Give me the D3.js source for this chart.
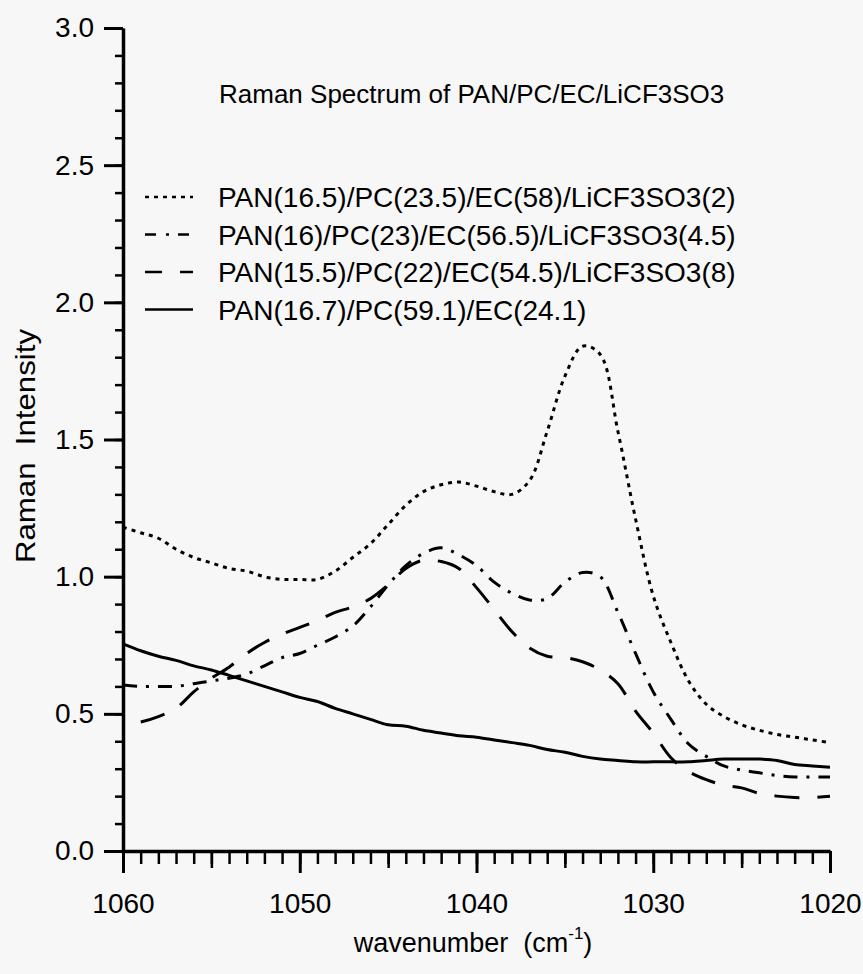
<!DOCTYPE html>
<html>
<head>
<meta charset="utf-8">
<script src="https://cdn.jsdelivr.net/npm/d3@7"></script>
<style>
  body { margin: 0; background: #f7f7f7; }
  svg { display: block; font-family: 'Liberation Sans', Arial, Helvetica, sans-serif; }
</style>
</head>
<body>
<div id="chart"></div>
<script>
// values, one per wavenumber
const wavenumbers = [1060, 1059, 1058, 1057, 1056, 1055, 1054, 1053, 1052, 1051,
  1050, 1049, 1048, 1047, 1046, 1045, 1044, 1043, 1042, 1041,
  1040, 1039, 1038, 1037, 1036, 1035, 1034, 1033, 1032, 1031,
  1030, 1029, 1028, 1027, 1026, 1025, 1024, 1023, 1022, 1021, 1020];

const salt2 = [1.18, 1.16, 1.14, 1.10, 1.07, 1.05, 1.03, 1.02, 1.00, 0.99,
  0.99, 0.99, 1.02, 1.07, 1.12, 1.19, 1.26, 1.31, 1.335, 1.345,
  1.33, 1.31, 1.30, 1.35, 1.53, 1.73, 1.84, 1.81, 1.53, 1.21,
  0.93, 0.76, 0.62, 0.535, 0.49, 0.46, 0.44, 0.425, 0.415, 0.405, 0.395];

const salt45 = [0.605, 0.60, 0.60, 0.60, 0.61, 0.62, 0.63, 0.645, 0.675, 0.705,
  0.72, 0.75, 0.78, 0.82, 0.89, 0.97, 1.04, 1.085, 1.105, 1.08,
  1.04, 0.98, 0.94, 0.915, 0.92, 0.98, 1.015, 1.00, 0.87, 0.72,
  0.58, 0.48, 0.39, 0.345, 0.31, 0.295, 0.285, 0.275, 0.27, 0.27, 0.27];

const salt8 = [0.46, 0.47, 0.49, 0.52, 0.58, 0.63, 0.67, 0.72, 0.76, 0.79,
  0.815, 0.84, 0.87, 0.89, 0.92, 0.97, 1.03, 1.06, 1.055, 1.03,
  0.96, 0.88, 0.80, 0.74, 0.71, 0.705, 0.69, 0.66, 0.61, 0.51,
  0.43, 0.34, 0.29, 0.26, 0.24, 0.23, 0.21, 0.20, 0.195, 0.195, 0.20];

const noSalt = [0.755, 0.73, 0.71, 0.695, 0.675, 0.66, 0.64, 0.62, 0.60, 0.58,
  0.56, 0.545, 0.52, 0.50, 0.48, 0.46, 0.455, 0.44, 0.43, 0.42,
  0.415, 0.405, 0.395, 0.385, 0.37, 0.36, 0.345, 0.335, 0.33, 0.325,
  0.325, 0.325, 0.325, 0.33, 0.335, 0.335, 0.335, 0.33, 0.315, 0.31, 0.305];

const seriesLabels = [
  'PAN(16.5)/PC(23.5)/EC(58)/LiCF3SO3(2)',
  'PAN(16)/PC(23)/EC(56.5)/LiCF3SO3(4.5)',
  'PAN(15.5)/PC(22)/EC(54.5)/LiCF3SO3(8)',
  'PAN(16.7)/PC(59.1)/EC(24.1)',
];

const yMajorTicks = [0, 0.5, 1.0, 1.5, 2.0, 2.5, 3.0];
const xMajorTicks = [1060, 1050, 1040, 1030, 1020];
const xMidTicks = [1055, 1045, 1035, 1025];

const titleText = 'Raman Spectrum of PAN/PC/EC/LiCF3SO3';

const width = 863;
const height = 974;

const x = d3.scaleLinear().domain([1060, 1020]).range([123, 830]);
const y = d3.scaleLinear().domain([0, 3]).range([851, 28]);

const svg = d3.select('#chart')
  .append('svg')
  .attr('width', width)
  .attr('height', height);

svg.append('rect')
  .attr('width', width)
  .attr('height', height)
  .attr('fill', '#f7f7f7');

// minor ticks first so the major ones sit on top
const yMinor = d3.range(0, 3.001, 0.1);
const xMinor = d3.range(1020, 1060.5, 1);

svg.append('g')
  .attr('transform', `translate(${x(1060)},0)`)
  .call(d3.axisLeft(y).tickValues(yMinor).tickSize(8).tickSizeOuter(0).tickFormat(''))
  .call(g => g.selectAll('.tick line').attr('stroke-width', 2.5));

svg.append('g')
  .attr('transform', `translate(0,${y(0)})`)
  .call(d3.axisBottom(x).tickValues(xMinor).tickSize(13).tickSizeOuter(0).tickFormat(''))
  .call(g => g.selectAll('.tick line').attr('stroke-width', 2.5));

svg.append('g')
  .attr('transform', `translate(0,${y(0)})`)
  .call(d3.axisBottom(x).tickValues(xMidTicks).tickSize(17).tickSizeOuter(0).tickFormat(''))
  .call(g => g.selectAll('.tick line').attr('stroke-width', 2.5));

const yAxis = svg.append('g')
  .attr('transform', `translate(${x(1060)},0)`)
  .call(d3.axisLeft(y).tickValues(yMajorTicks).tickSize(19).tickPadding(10)
    .tickSizeOuter(0).tickFormat(d3.format('.1f')));

const xAxis = svg.append('g')
  .attr('transform', `translate(0,${y(0)})`)
  .call(d3.axisBottom(x).tickValues(xMajorTicks).tickSize(22).tickPadding(20)
    .tickSizeOuter(0).tickFormat(d3.format('d')));

[yAxis, xAxis].forEach(g => {
  g.select('.domain').attr('stroke-width', 3.5);
  g.selectAll('.tick line').attr('stroke-width', 3);
  g.selectAll('.tick text')
    .attr('font-size', 28)
    .attr('fill', '#000')
    .style('font-family', "'Liberation Sans', Arial, sans-serif");
});
svg.selectAll('.domain').attr('stroke', '#000');

// curves
const series = [
  { values: salt2, dash: '4,5', offset: 0 },
  { values: salt45, dash: '14,9,3,9', offset: 0 },
  { values: salt8, dash: '25,18', offset: 25 },
  { values: noSalt, dash: null, offset: 0 },
];

const line = d3.line()
  .x(d => x(d[0]))
  .y(d => y(d[1]))
  .curve(d3.curveCatmullRom.alpha(0.5));

svg.append('g')
  .selectAll('path')
  .data(series)
  .enter()
  .append('path')
  .attr('d', s => line(wavenumbers.map((w, i) => [w, s.values[i]])))
  .attr('fill', 'none')
  .attr('stroke', '#000')
  .attr('stroke-width', 3)
  .attr('stroke-dasharray', s => s.dash)
  .attr('stroke-dashoffset', s => s.offset);

// title + legend
svg.append('text')
  .attr('x', 219)
  .attr('y', 103)
  .attr('font-size', 26)
  .attr('fill', '#000')
  .style('white-space', 'pre')
  .text(titleText);

const legendSamples = [
  { dash: '4,5', offset: 0 },
  { dash: '11,10,3,9', offset: 0 },
  { dash: '25,18', offset: 8 },
  { dash: null, offset: 0 },
];

const legend = svg.append('g')
  .selectAll('g')
  .data(seriesLabels)
  .enter()
  .append('g')
  .attr('transform', (d, i) => `translate(0,${207 + i * 37.5})`);

legend.append('line')
  .attr('x1', 145)
  .attr('x2', 193)
  .attr('y1', -10)
  .attr('y2', -10)
  .attr('stroke', '#000')
  .attr('stroke-width', 2.5)
  .attr('stroke-dasharray', (d, i) => legendSamples[i].dash)
  .attr('stroke-dashoffset', (d, i) => legendSamples[i].offset);

legend.append('text')
  .attr('x', 218)
  .attr('y', 0)
  .attr('font-size', 28)
  .attr('fill', '#000')
  .text(d => d);

// axis titles
svg.append('text')
  .attr('transform', 'translate(35,563) rotate(-90)')
  .attr('text-anchor', 'start')
  .attr('font-size', 28)
  .attr('fill', '#000')
  .attr('textLength', 234)
  .attr('lengthAdjust', 'spacingAndGlyphs')
  .style('white-space', 'pre')
  .text('Raman  Intensity');

const xLabel = svg.append('text')
  .attr('x', 473)
  .attr('y', 952)
  .attr('text-anchor', 'middle')
  .attr('font-size', 27)
  .attr('fill', '#000')
  .style('white-space', 'pre');
xLabel.append('tspan').text('wavenumber  (cm');
xLabel.append('tspan').attr('font-size', 17).attr('dy', -13).text('-1');
xLabel.append('tspan').attr('dy', 13).text(')');
</script>
</body>
</html>
